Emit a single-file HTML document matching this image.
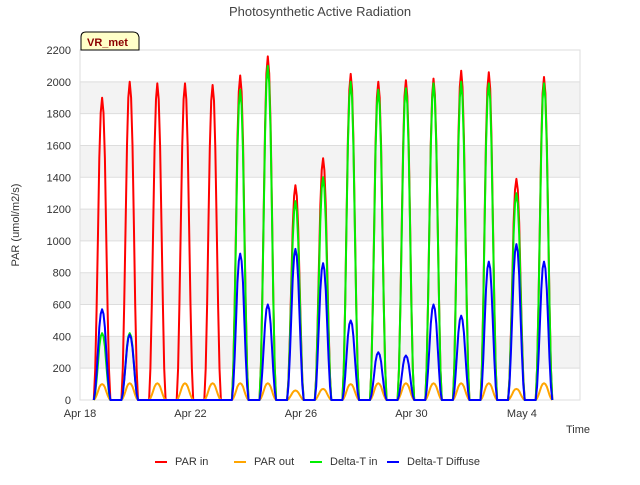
<!DOCTYPE html>
<html><head><meta charset="utf-8"><style>
body{margin:0;background:#fff;font-family:"Liberation Sans",sans-serif}
svg text{font-family:"Liberation Sans",sans-serif}
</style></head><body>
<svg id="c" width="640" height="480">
<text x="320" y="16" text-anchor="middle" font-size="13" fill="#444">Photosynthetic Active Radiation</text>
<g id="bands"></g><g id="grid"></g>
<rect x="80" y="50" width="500" height="350" fill="none" stroke="#ddd"/>
<g id="series"></g><g id="axes"></g>
<text transform="translate(19,225) rotate(-90)" text-anchor="middle" font-size="11" fill="#333">PAR (umol/m2/s)</text>
<text x="566" y="433" font-size="11" fill="#333">Time</text>
<g>
<path d="M81,50 L81,37 Q81,32 86,32 L133,32 Q138,32 139,37 L139,50 Z" fill="#ffffc8" stroke="#000"/>
<text x="87" y="46" font-size="11" font-weight="bold" fill="#8b0000">VR_met</text></g>
<g id="legend"></g>
</svg>
<script>
const days=[0,1,2,3,4,5,6,7,8,9,10,11,12,13,14,15,16];
const parIn=[1900,2000,1990,1990,1980,2040,2160,1350,1520,2050,2000,2010,2020,2070,2060,1390,2030];
const parOut=[100,105,105,105,105,105,105,60,70,100,105,105,105,105,105,70,105];
const deltaTIn=[420,420,null,null,null,1950,2100,1250,1400,2000,1950,1960,1990,2000,1990,1300,1990];
const deltaTDiffuse=[570,410,0,0,0,920,600,950,860,500,300,280,600,530,870,980,870];
const profileT=[0.5,0.55,0.6,0.65,0.7,0.75,0.8,0.85,0.9,0.95,1.0,1.05,1.1];
const profileV=[0,0.1,0.3,0.55,0.8,0.95,1,0.95,0.8,0.55,0.3,0.1,0];
const yTicks=[0,200,400,600,800,1000,1200,1400,1600,1800,2000,2200];
const xTicks=[0,4,8,12,16];
const xLabels=["Apr 18","Apr 22","Apr 26","Apr 30","May 4"];
const X=d=>80+d*27.62, Y=v=>400-v*350/2200;
const NS="http://www.w3.org/2000/svg";
function mk(tag,attrs,parent){const e=document.createElementNS(NS,tag);for(const k in attrs)e.setAttribute(k,attrs[k]);document.getElementById(parent).appendChild(e);return e;}
for(let i=0;i<yTicks.length-1;i++){if(i%2==1){const b=mk('rect',{x:80,y:Y(yTicks[i+1]),width:500,height:Y(yTicks[i])-Y(yTicks[i+1]),fill:'#f3f3f3'},'bands');

}}
yTicks.forEach(v=>{const l=mk('line',{x1:80,x2:580,y1:Y(v),y2:Y(v),stroke:'#ddd'},'grid');


const t=mk('text',{x:71,y:Y(v)+4,'text-anchor':'end','font-size':11,fill:'#333'},'axes');t.textContent=v;

});
xTicks.forEach((d,i)=>{const t=mk('text',{x:X(d),y:417,'text-anchor':'middle','font-size':11,fill:'#333'},'axes');t.textContent=xLabels[i];

});
function draw(vals,color,name){let segs=[],cur=[];
days.forEach((d,i)=>{const v=vals[i];if(v===null){if(cur.length)segs.push(cur);cur=[];return;}
profileT.forEach((t,j)=>cur.push(X(d+t).toFixed(1)+','+Y(v*profileV[j]).toFixed(1)));});
if(cur.length)segs.push(cur);
segs.forEach(s=>{const p=mk('polyline',{points:s.join(' '),fill:'none',stroke:color,'stroke-width':2,'stroke-linejoin':'round'},'series');

});}
draw(parIn,'#ff0000','par-in-line');
draw(parOut,'#ffa500','par-out-line');
draw(deltaTIn,'#00ee00','delta-t-in-line');
draw(deltaTDiffuse,'#0000ff','delta-t-diffuse-line');
const lg=[["PAR in","#ff0000",155],["PAR out","#ffa500",234],["Delta-T in","#00ee00",310],["Delta-T Diffuse","#0000ff",387]];
lg.forEach(a=>{const l=mk('line',{x1:a[2],x2:a[2]+12,y1:462,y2:462,stroke:a[1],'stroke-width':2},'legend');


const t=mk('text',{x:a[2]+20,y:465,'font-size':11,fill:'#333'},'legend');t.textContent=a[0];

});
</script>
</body></html>
